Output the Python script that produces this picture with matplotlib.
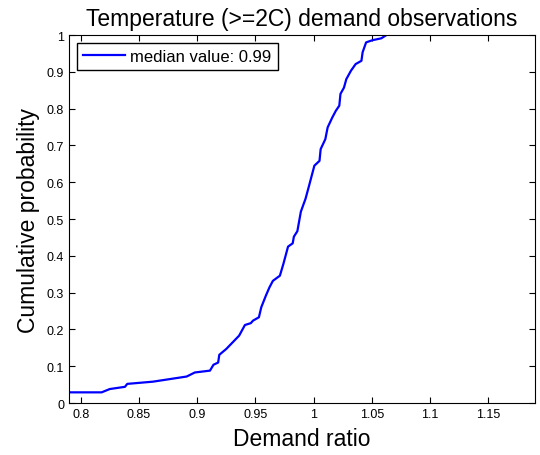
# Empirical CDF of demand ratio for temperature >= 2C observations

import numpy as np
import matplotlib.pyplot as plt

plt.rcParams['font.family'] = ['Liberation Sans', 'DejaVu Sans']

demand_ratio = [0.79, 0.818, 0.825, 0.838, 0.840, 0.862, 0.891, 0.898, 0.911, 0.914,
                0.918, 0.919, 0.925, 0.936, 0.941, 0.946, 0.948, 0.953, 0.955, 0.959,
                0.962, 0.965, 0.971, 0.974, 0.978, 0.982, 0.983, 0.986, 0.989, 0.993,
                0.996, 1.0006, 1.005, 1.006, 1.010, 1.012, 1.016, 1.019, 1.022, 1.023,
                1.026, 1.028, 1.032, 1.036, 1.041, 1.042, 1.045, 1.0505, 1.058, 1.0625]
cum_prob = [0.029, 0.029, 0.038, 0.044, 0.052, 0.058, 0.072, 0.083, 0.088, 0.104,
            0.11, 0.131, 0.147, 0.183, 0.212, 0.217, 0.224, 0.233, 0.26, 0.292,
            0.314, 0.332, 0.346, 0.378, 0.425, 0.434, 0.452, 0.467, 0.52, 0.555,
            0.59, 0.645, 0.658, 0.69, 0.717, 0.749, 0.776, 0.794, 0.808, 0.84,
            0.857, 0.88, 0.903, 0.921, 0.93, 0.953, 0.98, 0.986, 0.991, 1.0]
median_value = 0.99

fig = plt.figure(figsize=(5.4, 4.56), dpi=100)
ax = fig.add_axes([0.1278, 0.114, 0.863, 0.807])

ax.plot(demand_ratio, cum_prob, color='#0000ff', linewidth=1.6,
        label='median value: %.2f' % median_value)

ax.set_xlim(0.79, 1.19)
ax.set_ylim(0, 1)
ax.set_xticks(np.arange(0.8, 1.16, 0.05))
ax.set_xticklabels(['0.8', '0.85', '0.9', '0.95', '1', '1.05', '1.1', '1.15'])
ax.set_yticks(np.arange(0, 1.01, 0.1))
ax.set_yticklabels(['0'] + ['%.1f' % v for v in np.arange(0.1, 1.0, 0.1)] + ['1'])
ax.tick_params(direction='in', top=True, right=True, labelsize=9, length=4)

ax.set_xlabel('Demand ratio', fontsize=16.5, labelpad=5)
ax.set_ylabel('Cumulative probability', fontsize=16.5, labelpad=5)
ax.set_title('Temperature (>=2C) demand observations', fontsize=16.5, pad=7)

leg = ax.legend(loc='upper left', fontsize=12, fancybox=False, framealpha=1,
                edgecolor='black', handlelength=2.5, handletextpad=0.35,
                borderpad=0.38, borderaxespad=0.45)
leg.get_frame().set_linewidth(1.0)

fig.savefig('out.png', dpi=100)
